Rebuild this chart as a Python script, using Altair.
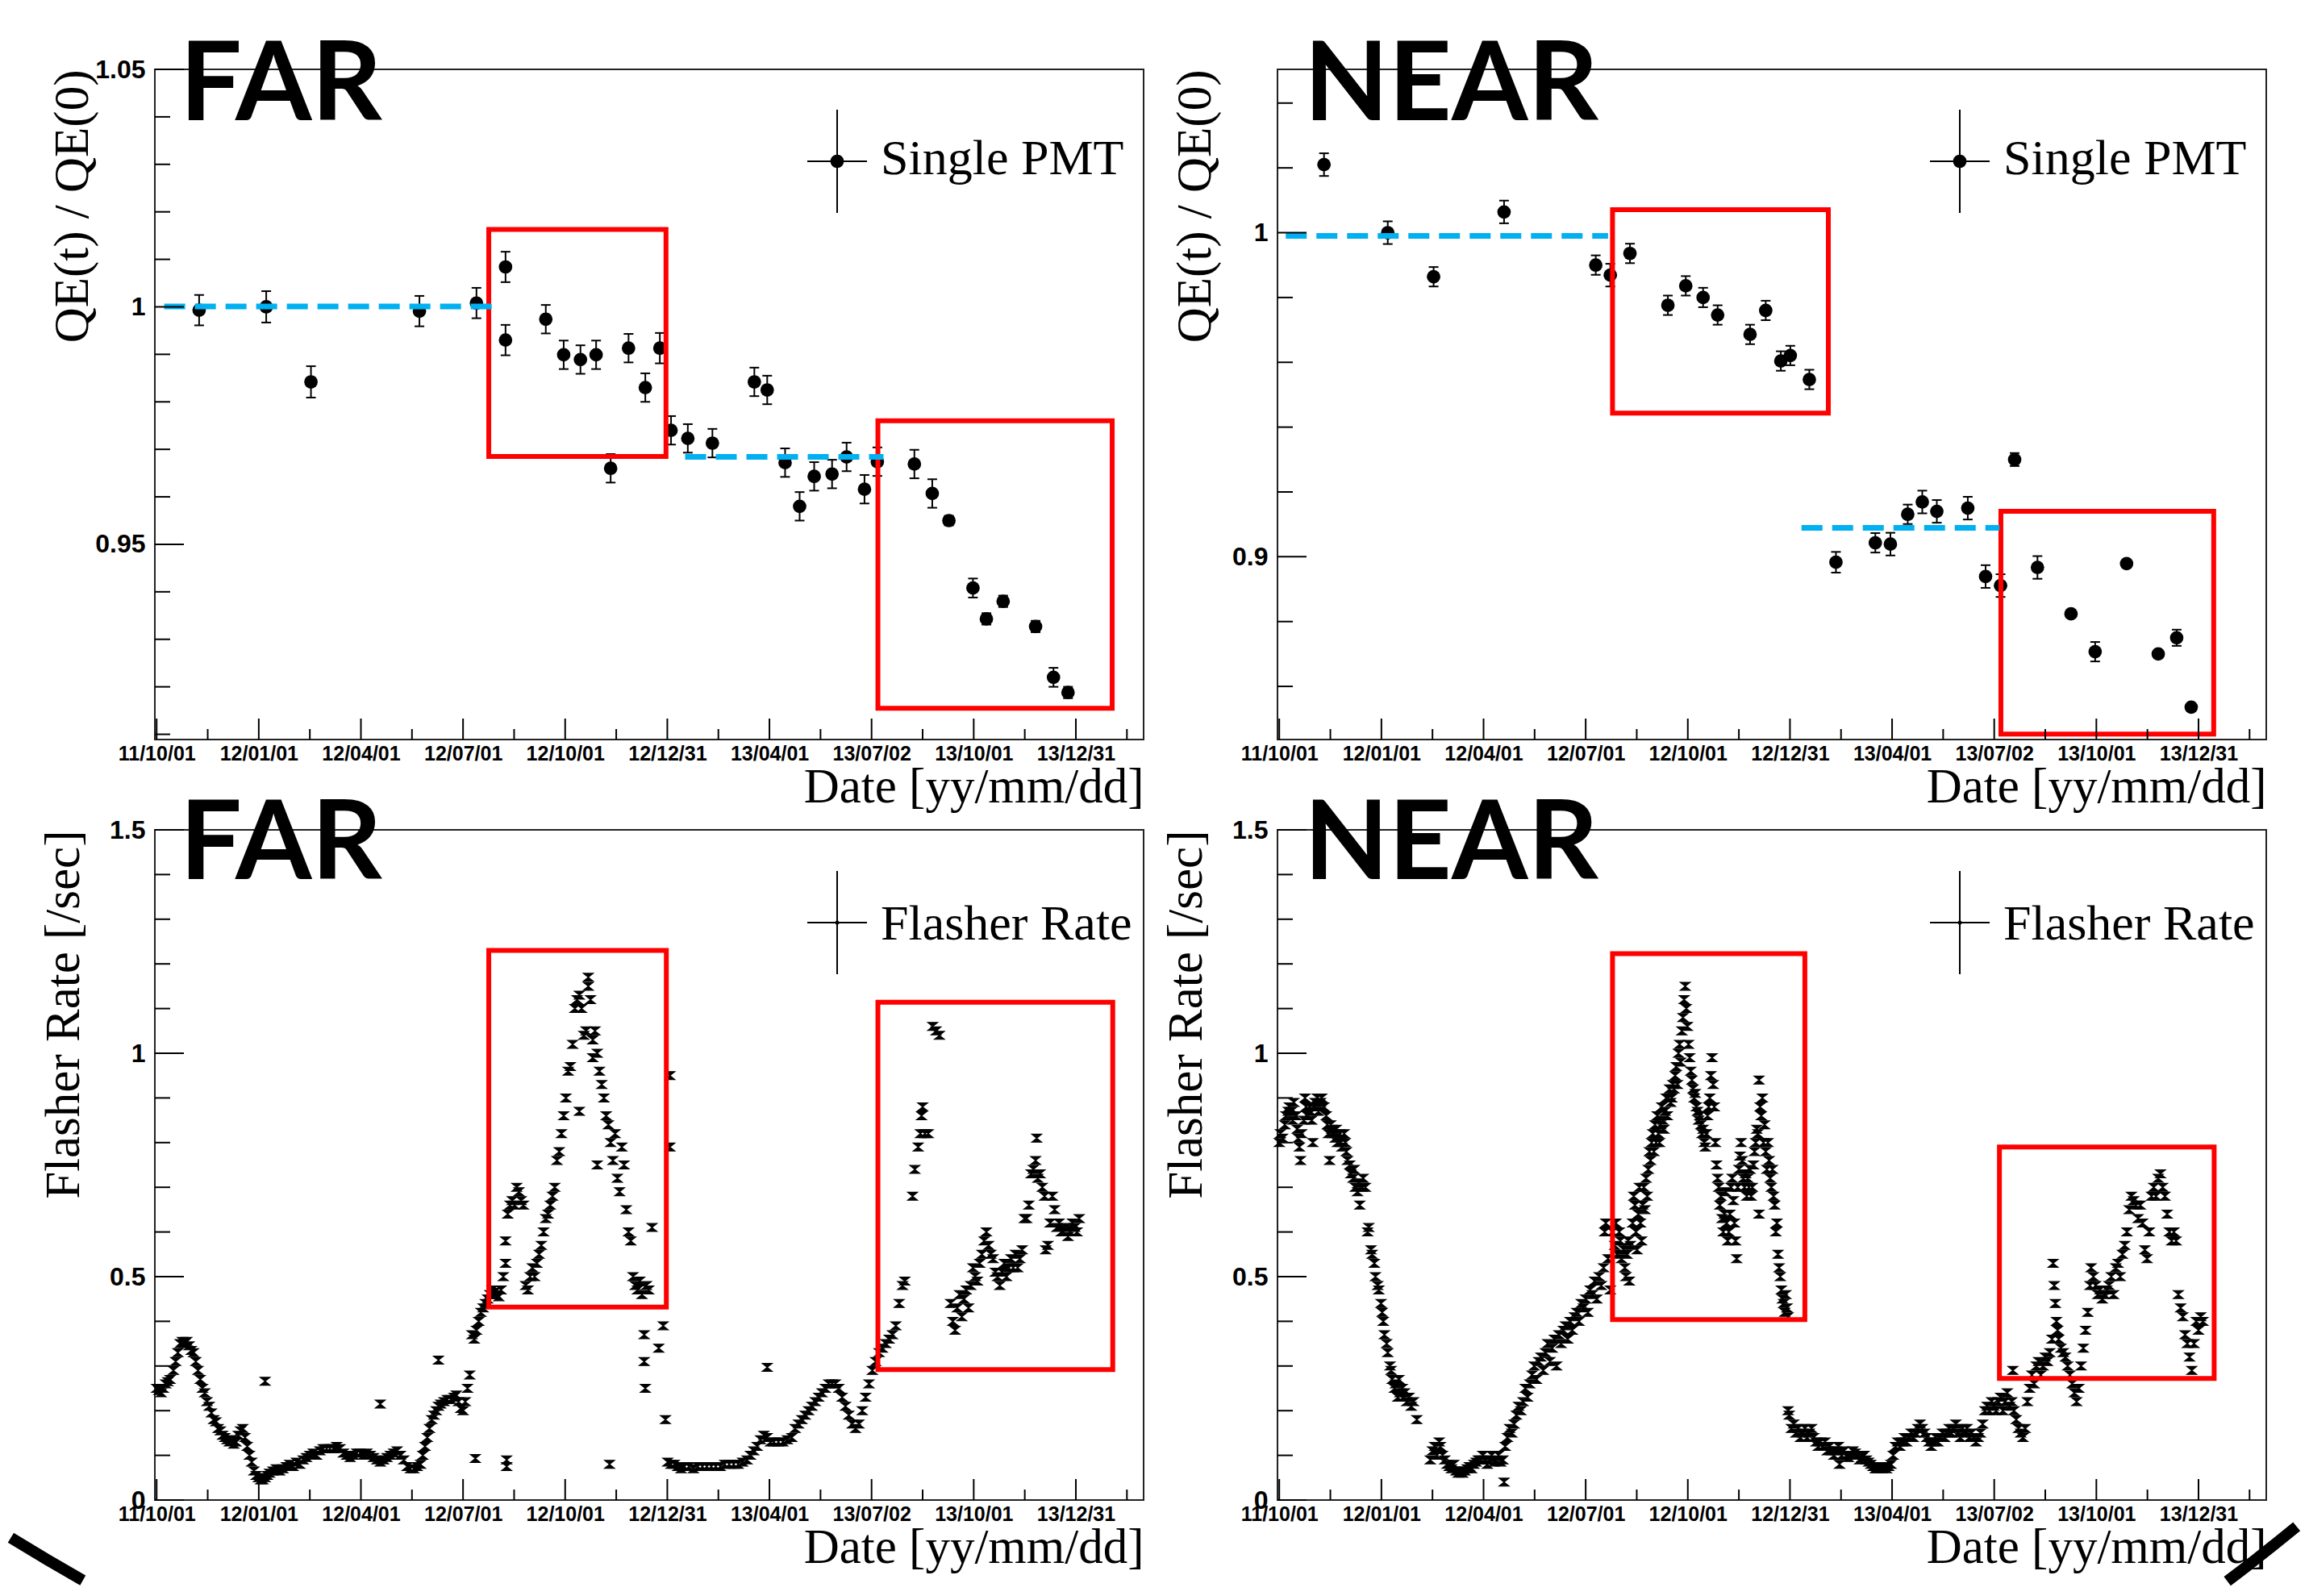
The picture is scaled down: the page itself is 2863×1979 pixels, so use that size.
import altair as alt
import pandas as pd

W, H = 1226, 831

# ---------------- axis ticks / labels ----------------
X_DOMAIN = [-1.6, 882.6]
X_MAJOR = [0, 91.33, 182.67, 274, 365.33, 456.67, 548, 639.33, 730.67, 822]
X_MINOR = [45.67, 137, 228.33, 319.67, 411, 502.33, 593.67, 685, 776.33, 867.67]
X_LABELS = ['11/10/01', '12/01/01', '12/04/01', '12/07/01', '12/10/01',
            '12/12/31', '13/04/01', '13/07/02', '13/10/01', '13/12/31']

FQE_YDOM = [0.9089, 1.05]
FQE_YMAJOR = [0.95, 1.0, 1.05]
FQE_YMINOR = [0.91, 0.92, 0.93, 0.94, 0.96, 0.97, 0.98, 0.99, 1.01, 1.02, 1.03, 1.04]

NQE_YDOM = [0.8436, 1.0504]
NQE_YMAJOR = [0.9, 1.0]
NQE_YMINOR = [0.86, 0.88, 0.92, 0.94, 0.96, 0.98, 1.02, 1.04]

FL_YDOM = [0.0, 1.5]
FL_YMAJOR = [0.0, 0.5, 1.0, 1.5]
FL_YMINOR = [0.1, 0.2, 0.3, 0.4, 0.6, 0.7, 0.8, 0.9, 1.1, 1.2, 1.3, 1.4]

# ---------------- QE data (days since 2011-10-01) ----------------
FAR_QE_DAY = [38, 98, 138, 235, 286, 312, 312, 348, 364, 379, 393, 406, 422, 437, 450,
              460, 475, 497, 534.5, 546, 562, 575, 588, 604, 617, 633, 644.5, 677.6,
              693.6, 708.5, 730, 742, 757, 786, 802, 815]
FAR_QE_VAL = [0.9993, 1.0000, 0.9842, 0.9991, 1.0008, 1.0084, 0.9930, 0.9974, 0.9899,
              0.9889, 0.9899, 0.9660, 0.9913, 0.9830, 0.9913, 0.9740, 0.9723, 0.9713,
              0.9842, 0.9825, 0.9672, 0.9580, 0.9643, 0.9648, 0.9684, 0.9616, 0.9674,
              0.9669, 0.9607, 0.9550, 0.9408, 0.9343, 0.9380, 0.9327, 0.9220, 0.9188]
FAR_QE_ERR = [0.0032, 0.0033, 0.0033, 0.0032, 0.0032, 0.0032, 0.0032, 0.0030, 0.0030,
              0.0030, 0.0030, 0.0030, 0.0030, 0.0030, 0.0032, 0.0030, 0.0030, 0.0030,
              0.0030, 0.0030, 0.0030, 0.0030, 0.0030, 0.0030, 0.0030, 0.0030, 0.0030,
              0.0030, 0.0030, 0.0010, 0.0020, 0.0012, 0.0012, 0.0012, 0.0020, 0.0012]

NEAR_QE_DAY = [40, 97, 138, 201, 283, 296, 313.6, 347.5, 363.5, 379, 392, 421, 435,
               448.5, 457, 474, 497.8, 533, 546.5, 562, 575, 588, 615.7, 631.6, 645,
               657.6, 678, 708, 729.6, 757.7, 786, 802.5, 815.5]
NEAR_QE_VAL = [1.0210, 1.0000, 0.9864, 1.0064, 0.9900, 0.9869, 0.9936, 0.9776, 0.9836,
               0.9800, 0.9746, 0.9686, 0.9760, 0.9604, 0.9621, 0.9547, 0.8983, 0.9043,
               0.9039, 0.9131, 0.9169, 0.9140, 0.9150, 0.8939, 0.8911, 0.9300, 0.8967,
               0.8824, 0.8707, 0.8979, 0.8700, 0.8750, 0.8536]
NEAR_QE_ERR = [0.0035, 0.0035, 0.0030, 0.0035, 0.0030, 0.0035, 0.0030, 0.0030, 0.0030,
               0.0030, 0.0030, 0.0030, 0.0030, 0.0030, 0.0030, 0.0030, 0.0032, 0.0030,
               0.0035, 0.0030, 0.0035, 0.0035, 0.0035, 0.0035, 0.0035, 0.0020, 0.0035,
               0.0012, 0.0030, 0.0012, 0.0012, 0.0025, 0.0012]

# ---------------- Flasher rate data ----------------
FAR_FL_DAY = [0, 2, 4, 6, 8, 10, 12, 15, 17, 19, 21, 23, 25, 27, 29, 31, 33, 35, 37, 39, 41, 43, 45, 47, 49,
              51, 53, 55, 57, 59, 61, 63, 65, 67, 69, 71, 73, 75, 77, 79, 81, 83, 85, 87, 89, 91, 93, 95,
              97, 97, 99, 101, 104, 107, 110, 113, 116, 119, 122, 125, 128, 131, 134, 137, 140, 143,
              146, 149, 152, 155, 158, 161, 164, 167, 170, 173, 176, 179, 182, 185, 188, 191, 194, 197,
              200, 200, 203, 206, 209, 212, 215, 218, 221, 224, 227, 230, 233, 236, 238, 240, 242, 244,
              246, 248, 250, 252, 252, 254, 257, 260, 263, 266, 268, 270, 272, 274, 276, 278, 280, 282,
              284, 285, 286, 288, 290, 292, 294, 296, 298, 300, 302, 304, 306, 308, 310, 312, 312, 313,
              313, 314, 316, 318, 320, 322, 324, 326, 328, 330, 332, 334, 336, 338, 340, 342, 344, 346,
              348, 350, 352, 354, 356, 358, 360, 362, 364, 366, 368, 370, 372, 374, 376, 378, 378, 380,
              382, 384, 386, 386, 388, 390, 390, 392, 394, 394, 396, 398, 400, 402, 404, 405, 406, 408,
              410, 412, 414, 416, 418, 420, 422, 424, 426, 428, 430, 432, 434, 436, 436, 437, 438, 440,
              443, 449, 453, 455, 459, 459, 457, 460, 463, 466, 469, 472, 476, 480, 484, 488, 492, 496,
              500, 504, 508, 512, 516, 520, 524, 528, 531, 534, 537, 540, 543, 546, 546, 549, 552, 556,
              560, 564, 568, 571, 574, 577, 580, 583, 586, 589, 592, 595, 598, 601, 604, 607, 610, 613,
              616, 619, 622, 625, 628, 631, 634, 637, 640, 643, 646, 649, 652, 655, 658, 661, 664, 667,
              669, 676, 678, 681, 683, 684, 685, 687, 690, 694, 697, 700, 710, 712, 714, 716, 718, 720,
              722, 724, 726, 728, 730, 732, 734, 736, 738, 740, 742, 744, 746, 748, 750, 752, 754, 756,
              758, 760, 762, 764, 766, 768, 770, 772, 774, 776, 778, 780, 782, 784, 786, 787, 788, 790,
              792, 794, 795, 797, 799, 801, 803, 805, 807, 809, 811, 813, 815, 817, 819, 821, 823, 825]
FAR_FL_VAL = [0.25, 0.245, 0.24, 0.25, 0.26, 0.265, 0.27, 0.29, 0.31, 0.33, 0.35, 0.355, 0.35, 0.355, 0.345,
              0.335, 0.33, 0.31, 0.29, 0.27, 0.25, 0.24, 0.22, 0.21, 0.195, 0.18, 0.175, 0.16, 0.155,
              0.145, 0.14, 0.135, 0.13, 0.135, 0.125, 0.13, 0.145, 0.155, 0.16, 0.14, 0.12, 0.1, 0.085,
              0.065, 0.055, 0.05, 0.045, 0.045, 0.266, 0.05, 0.055, 0.06, 0.065, 0.07, 0.065, 0.07, 0.075,
              0.08, 0.075, 0.085, 0.08, 0.09, 0.095, 0.1, 0.105, 0.1, 0.11, 0.115, 0.115, 0.115, 0.115,
              0.12, 0.115, 0.105, 0.1, 0.095, 0.1, 0.105, 0.105, 0.1, 0.105, 0.1, 0.095, 0.09, 0.215,
              0.085, 0.09, 0.095, 0.1, 0.105, 0.11, 0.1, 0.09, 0.075, 0.07, 0.07, 0.075, 0.08, 0.1, 0.12,
              0.14, 0.16, 0.18, 0.19, 0.2, 0.313, 0.21, 0.215, 0.22, 0.225, 0.225, 0.23, 0.235, 0.22,
              0.205, 0.2, 0.22, 0.25, 0.28, 0.37, 0.36, 0.093, 0.38, 0.4, 0.42, 0.43, 0.44, 0.45, 0.46,
              0.47, 0.465, 0.46, 0.455, 0.47, 0.5, 0.53, 0.58, 0.09, 0.075, 0.64, 0.66, 0.67, 0.66, 0.7,
              0.69, 0.67, 0.66, 0.48, 0.47, 0.5, 0.52, 0.5, 0.53, 0.55, 0.57, 0.6, 0.63, 0.64, 0.66, 0.68,
              0.7, 0.76, 0.78, 0.82, 0.86, 0.9, 0.96, 0.97, 1.02, 1.1, 1.12, 1.13, 0.87, 1.1, 1.04, 1.05,
              1.17, 1.15, 1.12, 1.03, 0.99, 1.05, 1.0, 0.75, 0.96, 0.93, 0.9, 0.86, 0.84, 0.08, 0.8, 0.76,
              0.82, 0.72, 0.69, 0.79, 0.75, 0.65, 0.6, 0.58, 0.5, 0.48, 0.47, 0.49, 0.46, 0.37, 0.31,
              0.25, 0.48, 0.47, 0.61, 0.34, 0.39, 0.18, 0.95, 0.79, 0.085, 0.08, 0.08, 0.075, 0.07, 0.075,
              0.075, 0.07, 0.075, 0.075, 0.075, 0.075, 0.075, 0.075, 0.08, 0.08, 0.08, 0.08, 0.085, 0.09,
              0.1, 0.11, 0.12, 0.135, 0.145, 0.297, 0.14, 0.13, 0.13, 0.13, 0.13, 0.135, 0.14, 0.16, 0.17,
              0.18, 0.19, 0.2, 0.21, 0.22, 0.23, 0.24, 0.25, 0.26, 0.26, 0.26, 0.25, 0.23, 0.21, 0.19,
              0.17, 0.16, 0.17, 0.2, 0.23, 0.26, 0.29, 0.31, 0.33, 0.34, 0.35, 0.36, 0.37, 0.39, 0.44,
              0.48, 0.49, 0.68, 0.74, 0.79, 0.82, 0.86, 0.88, 0.82, 0.82, 1.06, 1.05, 1.04, 0.44, 0.4,
              0.38, 0.43, 0.46, 0.41, 0.45, 0.47, 0.43, 0.48, 0.52, 0.5, 0.49, 0.53, 0.55, 0.58, 0.6,
              0.57, 0.55, 0.54, 0.51, 0.5, 0.48, 0.51, 0.53, 0.5, 0.52, 0.54, 0.52, 0.55, 0.52, 0.54,
              0.56, 0.63, 0.63, 0.66, 0.73, 0.74, 0.76, 0.81, 0.72, 0.73, 0.7, 0.68, 0.56, 0.57, 0.62,
              0.68, 0.65, 0.61, 0.62, 0.6, 0.6, 0.61, 0.59, 0.6, 0.62, 0.61, 0.6, 0.63]

NEAR_FL_DAY = [0, 1, 3, 5, 6, 8, 9, 11, 12, 13, 15, 16, 17, 18, 19, 20, 22, 23, 24, 25, 27, 28, 29, 30, 31,
               32, 34, 35, 37, 38, 40, 42, 43, 44, 45, 46, 47, 48, 50, 51, 52, 54, 55, 56, 58, 59, 60, 61,
               63, 64, 66, 67, 68, 70, 71, 72, 74, 75, 77, 79, 80, 82, 83, 85, 86, 88, 89, 91, 92, 93, 94,
               96, 97, 99, 100, 101, 103, 104, 106, 107, 108, 110, 111, 112, 114, 116, 118, 120, 123,
               135, 137, 139, 141, 143, 144, 146, 148, 150, 152, 154, 156, 158, 160, 162, 164, 166, 168,
               170, 172, 174, 176, 178, 180, 182, 184, 186, 188, 190, 192, 194, 196, 198, 200, 201, 202,
               204, 206, 208, 210, 212, 214, 216, 218, 220, 222, 224, 226, 228, 230, 232, 234, 236, 238,
               240, 242, 244, 246, 248, 250, 252, 254, 256, 258, 260, 262, 264, 266, 268, 270, 272, 274,
               276, 278, 280, 282, 284, 286, 288, 290, 291, 292, 294, 296, 298,
               300, 301, 302, 304, 305, 306, 308, 309, 310, 311, 312, 313, 314, 316, 317, 318, 319, 320,
               321, 322, 323, 324, 325, 326, 327, 328, 329, 330, 331, 332, 333, 334, 335, 336, 337, 338,
               339, 340, 341, 342, 343, 344, 345, 346, 347, 348, 349, 350, 351, 352, 353, 354, 355, 356,
               357, 358, 359, 360, 361, 362, 363, 364, 365, 366, 367, 368, 369, 370, 371, 372, 373, 374,
               375, 376, 377, 378, 379, 380, 381, 382, 383, 384, 385, 386, 387, 388, 389, 390, 391, 392,
               393, 394, 395, 396, 397, 398, 399, 400, 401, 402, 403, 404, 405, 406, 407, 408, 409, 410,
               411, 412, 413, 414, 415, 416, 417, 418, 419, 420, 421, 422, 423, 424, 425, 426, 427, 428,
               429, 429, 430, 431, 432, 433, 434, 435, 436, 437, 438, 439, 440, 441, 442, 443, 444, 445,
               446, 447, 448, 449, 450, 451, 452, 453, 454, 455,
               455, 456, 458, 460, 462, 464, 466, 468, 470, 472, 474, 476, 478, 480, 482, 484, 486, 488,
               490, 492, 494, 496, 498, 500, 501, 503, 505, 507, 509, 511, 513, 515, 517, 519, 521, 523,
               525, 527, 529, 531, 533, 535, 537, 539, 541, 543, 545, 547, 549, 551, 553, 555, 557, 559,
               561, 563, 565, 567, 569, 571, 573, 575, 577, 579, 581, 583, 585, 587, 589, 591, 593, 595,
               597, 599, 601, 603, 605, 607, 609, 611, 613, 615, 617, 619, 621, 623, 625, 627, 629, 631,
               633, 635, 637, 639, 641, 643, 645, 647, 649, 651, 653, 655, 656, 657, 659, 661, 663, 665,
               667, 669, 671, 673, 675, 677, 679, 681, 683, 685, 687, 689, 691, 692, 693, 694, 695, 696,
               697, 699, 701, 703, 705, 707, 709, 711, 713, 715, 717, 719, 721, 723, 725, 726, 728, 730,
               732, 734, 736, 738, 740, 742, 744, 746, 748, 750, 752, 754, 756, 758, 760, 762, 764, 766,
               768, 770, 772, 774, 776, 778, 780, 782, 784, 786, 788, 790, 792, 794, 796, 798, 800, 802,
               804, 806, 808, 810, 812, 814, 816, 818, 820, 822, 824, 826]
NEAR_FL_VAL = [0.80, 0.82, 0.81, 0.84, 0.86, 0.87, 0.88, 0.87, 0.85, 0.89, 0.86, 0.83, 0.81, 0.79, 0.76,
               0.82, 0.85, 0.90, 0.88, 0.86, 0.88, 0.87, 0.85, 0.80, 0.88, 0.89, 0.90, 0.87, 0.89, 0.90,
               0.88, 0.86, 0.84, 0.82, 0.76, 0.84, 0.83, 0.82, 0.81, 0.83, 0.80, 0.82, 0.80, 0.79, 0.82,
               0.80, 0.78, 0.76, 0.75, 0.73, 0.72, 0.74, 0.70, 0.69, 0.71, 0.66, 0.70, 0.72, 0.70, 0.60,
               0.61, 0.56, 0.55, 0.53, 0.50, 0.48, 0.47, 0.44, 0.42, 0.40, 0.37, 0.35, 0.33, 0.30, 0.29,
               0.27, 0.25, 0.26, 0.23, 0.27, 0.24, 0.25, 0.23, 0.24, 0.22, 0.23, 0.21, 0.22, 0.18,
               0.09, 0.11, 0.12, 0.10, 0.13, 0.12, 0.10, 0.09, 0.08, 0.075, 0.07, 0.08, 0.065, 0.06, 0.065,
               0.06, 0.065, 0.07, 0.075, 0.07, 0.08, 0.085, 0.09, 0.09, 0.10, 0.09, 0.08, 0.09, 0.10,
               0.085, 0.09, 0.10, 0.085, 0.09, 0.04, 0.12, 0.14, 0.16, 0.15, 0.17, 0.19, 0.21, 0.20, 0.22,
               0.25, 0.23, 0.26, 0.28, 0.30, 0.27, 0.31, 0.32, 0.29, 0.33, 0.35, 0.31, 0.34, 0.36, 0.30,
               0.37, 0.35, 0.38, 0.39, 0.36, 0.40, 0.38, 0.41, 0.42, 0.40, 0.44, 0.43, 0.45, 0.42, 0.47,
               0.46, 0.49, 0.45, 0.50, 0.48, 0.52, 0.60, 0.62, 0.54, 0.47, 0.60,
               0.57, 0.62, 0.55, 0.60, 0.58, 0.54, 0.56, 0.52, 0.50, 0.55, 0.58, 0.49, 0.57, 0.62, 0.68,
               0.66, 0.60, 0.56, 0.64, 0.70, 0.62, 0.58, 0.66, 0.70, 0.65, 0.72, 0.68, 0.74, 0.78, 0.76,
               0.80, 0.82, 0.78, 0.84, 0.80, 0.86, 0.82, 0.80, 0.84, 0.88, 0.85, 0.83, 0.87, 0.90, 0.86,
               0.90, 0.92, 0.89, 0.90, 0.93, 0.92, 0.95, 0.97, 0.93, 1.00, 1.02, 0.98, 1.05, 1.08, 1.12,
               1.15, 1.10, 1.06, 1.02, 0.99, 0.96, 0.94, 0.92, 0.90, 0.91, 0.88, 0.87, 0.85, 0.86, 0.84,
               0.82, 0.83, 0.80, 0.79, 0.82, 0.86, 0.88, 0.90, 0.95, 0.99, 0.93, 0.88, 0.80, 0.75, 0.72,
               0.70, 0.66, 0.68, 0.63, 0.60, 0.64, 0.69, 0.62, 0.58, 0.60, 0.64, 0.70, 0.72, 0.67, 0.62,
               0.58, 0.54, 0.70, 0.74, 0.77, 0.80, 0.76, 0.72, 0.70, 0.73, 0.68, 0.72, 0.70, 0.74, 0.68,
               0.70, 0.75, 0.78, 0.80, 0.83, 0.82, 0.94, 0.64, 0.88, 0.86, 0.90, 0.80, 0.84, 0.78, 0.74,
               0.80, 0.76, 0.72, 0.70, 0.74, 0.68, 0.66, 0.60, 0.62, 0.55, 0.52, 0.50, 0.47, 0.45, 0.44,
               0.42, 0.46, 0.43, 0.41,
               0.20, 0.19, 0.16, 0.17, 0.15, 0.16, 0.14, 0.15, 0.16, 0.14, 0.15, 0.16, 0.14, 0.13, 0.12,
               0.13, 0.12, 0.13, 0.11, 0.12, 0.11, 0.10, 0.11, 0.12, 0.08, 0.10, 0.11, 0.10, 0.095, 0.10,
               0.11, 0.105, 0.10, 0.09, 0.095, 0.10, 0.09, 0.085, 0.08, 0.075, 0.07, 0.07, 0.075, 0.07,
               0.075, 0.07, 0.075, 0.08, 0.10, 0.12, 0.13, 0.12, 0.13, 0.14, 0.13, 0.14, 0.15, 0.14, 0.15,
               0.16, 0.17, 0.16, 0.15, 0.14, 0.13, 0.12, 0.13, 0.14, 0.13, 0.14, 0.15, 0.14, 0.15, 0.16,
               0.15, 0.16, 0.17, 0.15, 0.14, 0.16, 0.15, 0.16, 0.14, 0.15, 0.14, 0.13, 0.14, 0.15, 0.17,
               0.20, 0.21, 0.20, 0.22, 0.21, 0.20, 0.22, 0.23, 0.20, 0.22, 0.24, 0.21, 0.22, 0.29, 0.20,
               0.18, 0.16, 0.15, 0.14, 0.16, 0.22, 0.25, 0.28, 0.26, 0.30, 0.31, 0.28, 0.30, 0.32, 0.31,
               0.33, 0.36, 0.53, 0.48, 0.44, 0.40, 0.38, 0.36, 0.34, 0.33, 0.32, 0.30, 0.28, 0.26, 0.24,
               0.22, 0.25, 0.30, 0.34, 0.38, 0.42, 0.48, 0.52, 0.50, 0.48, 0.46, 0.47, 0.45, 0.46, 0.47,
               0.48, 0.50, 0.46, 0.52, 0.53, 0.50, 0.55, 0.57, 0.60, 0.65, 0.68, 0.67, 0.66, 0.63, 0.66,
               0.62, 0.56, 0.54, 0.60, 0.68, 0.70, 0.68, 0.72, 0.73, 0.70, 0.68, 0.64, 0.60, 0.58, 0.60,
               0.58, 0.46, 0.43, 0.41, 0.37, 0.35, 0.32, 0.29, 0.35, 0.40, 0.38, 0.41, 0.40]

# ---------------- annotations ----------------
FAR_QE_BOX = {'x1': [297, 645], 'x2': [455.5, 854.5], 'y1': [0.9685, 0.9155], 'y2': [1.0163, 0.976]}
NEAR_QE_BOX = {'x1': [298, 645.3], 'x2': [491, 835.6], 'y1': [0.9443, 0.8453], 'y2': [1.0071, 0.914]}
FAR_FL_BOX = {'x1': [297, 645], 'x2': [455.8, 855], 'y1': [0.432, 0.292], 'y2': [1.23, 1.114]}
NEAR_FL_BOX = {'x1': [298, 644], 'x2': [470, 836], 'y1': [0.404, 0.272], 'y2': [1.223, 0.79]}

FAR_QE_FIT = {'x1': [6.8, 472.6], 'x2': [300, 650], 'y': [1.0001, 0.9684]}
NEAR_QE_FIT = {'x1': [5.8, 467], 'x2': [294, 644], 'y': [0.999, 0.9089]}

LABEL_FONT = 'Liberation Sans'
SERIF = 'Liberation Serif'

label_expr = "[" + ",".join("'%s'" % s for s in X_LABELS) + "][round(datum.value / 91.333)]"


def x_axis():
    return alt.Axis(values=X_MAJOR, labelExpr=label_expr, labelFont=LABEL_FONT,
                    labelFontWeight='bold', labelFontSize=25, labelColor='black',
                    labelPadding=5, ticks=False, domain=False, grid=False,
                    labelFlush=False, labelOverlap=False,
                    title='Date [yy/mm/dd]', titleFont=SERIF, titleFontSize=61,
                    titleFontWeight='normal', titleColor='black', titleX=W, titleY=77,
                    titleAlign='right', titleBaseline='alphabetic', titleAngle=0)


def y_axis(values, title, tx):
    return alt.Axis(values=values, format='~g', labelFont=LABEL_FONT, labelFontWeight='bold',
                    labelFontSize=32, labelColor='black', labelPadding=12, ticks=False,
                    domain=False, grid=False, labelFlush=False, labelOverlap=False,
                    title=title, titleFont=SERIF, titleFontSize=61, titleFontWeight='normal',
                    titleColor='black', titleAngle=270, titleX=tx, titleY=0,
                    titleAlign='right', titleBaseline='alphabetic')


def panel(kind, days, vals, errs, ydom, ymajor, yminor, ytitle, ytx, box, fit, tag, legend,
          corner=None):
    XA = x_axis()
    YA = y_axis(ymajor, ytitle, ytx)
    xs = alt.Scale(domain=X_DOMAIN, nice=False, zero=False)
    ys = alt.Scale(domain=ydom, nice=False, zero=False)

    def X(f):
        return alt.X(f, scale=xs, axis=XA)

    def Y(f):
        return alt.Y(f, scale=ys, axis=YA)

    layers = []
    one = pd.DataFrame({'k': [0]})

    # decorative slide outline in the bottom corners
    if corner is not None:
        layers.append(alt.Chart(one).mark_arc(color='black', opacity=1).encode(
            x=alt.value(corner['cx']), y=alt.value(corner['cy']),
            radius=alt.value(2710), radius2=alt.value(2696),
            theta=alt.value(corner['t1']), theta2=alt.value(corner['t2'])))

    if kind == 'qe':
        df = pd.DataFrame({'d': days, 'v': vals, 'e': errs})
        df['lo'] = df['v'] - df['e']
        df['hi'] = df['v'] + df['e']
        base = alt.Chart(df)
        points = base.mark_circle(color='black', size=280, opacity=1).encode(
            x=X('d:Q'), y=Y('v:Q'))
        layers.append(points)
        layers.append(base.mark_rule(color='black', strokeWidth=2).encode(
            x=X('d:Q'), y=Y('lo:Q'), y2='hi:Q'))
        for col in ['lo', 'hi']:
            layers.append(base.mark_rule(color='black', strokeWidth=2, xOffset=-6, x2Offset=6).encode(
                x=X('d:Q'), x2='d:Q', y=Y(col + ':Q')))
    else:
        df = pd.DataFrame({'d': days, 'v': vals})
        layers.append(alt.Chart(df).mark_point(
            shape='M-1,-0.8L1,-0.8L-1,0.8L1,0.8Z', filled=True, color='black', size=150,
            opacity=1, stroke='black', strokeWidth=1.2).encode(x=X('d:Q'), y=Y('v:Q')))

    # red boxes
    bdf = pd.DataFrame(box)
    layers.append(alt.Chart(bdf).mark_rect(fillOpacity=0, stroke='#ff0000', strokeWidth=6).encode(
        x=X('x1:Q'), x2='x2:Q', y=Y('y1:Q'), y2='y2:Q'))

    # blue fitted levels
    if fit is not None:
        fdf = pd.DataFrame(fit)
        layers.append(alt.Chart(fdf).mark_rule(color='#00b0f0', strokeWidth=7,
                                                 strokeDash=[26, 12]).encode(
            x=X('x1:Q'), x2='x2:Q', y=Y('y:Q')))

    # inward ticks (ROOT style)
    xmaj = pd.DataFrame({'d': X_MAJOR})
    xmin = pd.DataFrame({'d': X_MINOR})
    layers.append(alt.Chart(xmaj).mark_rule(color='black', strokeWidth=2).encode(
        x=X('d:Q'), y=alt.value(H), y2=alt.value(H - 26)))
    layers.append(alt.Chart(xmin).mark_rule(color='black', strokeWidth=2).encode(
        x=X('d:Q'), y=alt.value(H), y2=alt.value(H - 13)))
    ymaj = pd.DataFrame({'v': ymajor})
    ymin = pd.DataFrame({'v': yminor})
    layers.append(alt.Chart(ymaj).mark_rule(color='black', strokeWidth=2).encode(
        y=Y('v:Q'), x=alt.value(0), x2=alt.value(36)))
    layers.append(alt.Chart(ymin).mark_rule(color='black', strokeWidth=2).encode(
        y=Y('v:Q'), x=alt.value(0), x2=alt.value(19)))

    # legend (cross marker + text)
    cy = 114 if kind == 'qe' else 115
    layers.append(alt.Chart(one).mark_rule(color='black', strokeWidth=2).encode(
        x=alt.value(809), x2=alt.value(883), y=alt.value(cy)))
    layers.append(alt.Chart(one).mark_rule(color='black', strokeWidth=2).encode(
        x=alt.value(846), y=alt.value(cy - 64), y2=alt.value(cy + 64)))
    layers.append(alt.Chart(one).mark_circle(color='black', opacity=1,
                                             size=280 if kind == 'qe' else 25).encode(
        x=alt.value(846), y=alt.value(cy)))
    layers.append(alt.Chart(one).mark_text(text=legend, font=SERIF, fontSize=62, color='black',
                                           align='left', baseline='alphabetic').encode(
        x=alt.value(900), y=alt.value(130 if kind == 'qe' else 136)))

    # FAR / NEAR tag
    tx = 31 if tag == 'FAR' else 33
    ty = 63 if kind == 'qe' else 61
    layers.append(alt.Chart(one).mark_text(text=tag, font='Lato', fontSize=136, fontWeight='bold',
                                           color='black', align='left',
                                           baseline='alphabetic').encode(
        x=alt.value(tx), y=alt.value(ty)))

    return alt.layer(*layers).properties(width=W, height=H)


# arc pieces of the slide outline (panel-relative pixel centre, angles in radians)
LEFT_CORNER = {'cx': 1240.7, 'cy': -1422.6, 't1': 3.6560, 't2': 3.6944}
RIGHT_CORNER = {'cx': -451.0, 'cy': -1225.6, 't1': 2.4544, 't2': 2.4949}

tl = panel('qe', FAR_QE_DAY, FAR_QE_VAL, FAR_QE_ERR, FQE_YDOM, FQE_YMAJOR, FQE_YMINOR,
           'QE(t) / QE(0)', -84, FAR_QE_BOX, FAR_QE_FIT, 'FAR', 'Single PMT')
tr = panel('qe', NEAR_QE_DAY, NEAR_QE_VAL, NEAR_QE_ERR, NQE_YDOM, NQE_YMAJOR, NQE_YMINOR,
           'QE(t) / QE(0)', -84, NEAR_QE_BOX, NEAR_QE_FIT, 'NEAR', 'Single PMT')
bl = panel('fl', FAR_FL_DAY, FAR_FL_VAL, None, FL_YDOM, FL_YMAJOR, FL_YMINOR,
           'Flasher Rate [/sec]', -95, FAR_FL_BOX, None, 'FAR', 'Flasher Rate', LEFT_CORNER)
br = panel('fl', NEAR_FL_DAY, NEAR_FL_VAL, None, FL_YDOM, FL_YMAJOR, FL_YMINOR,
           'Flasher Rate [/sec]', -95, NEAR_FL_BOX, None, 'NEAR', 'Flasher Rate', RIGHT_CORNER)

chart = alt.concat(tl, tr, bl, br, columns=2, spacing={'row': 112, 'column': 166},
                   bounds='flush').properties(
    padding={'left': 0, 'top': 31, 'right': 0, 'bottom': 0},
    background='white'
).configure_view(stroke='#222222', strokeWidth=2)

chart.save("out.html", embed_options={"renderer": "svg", "actions": False})
